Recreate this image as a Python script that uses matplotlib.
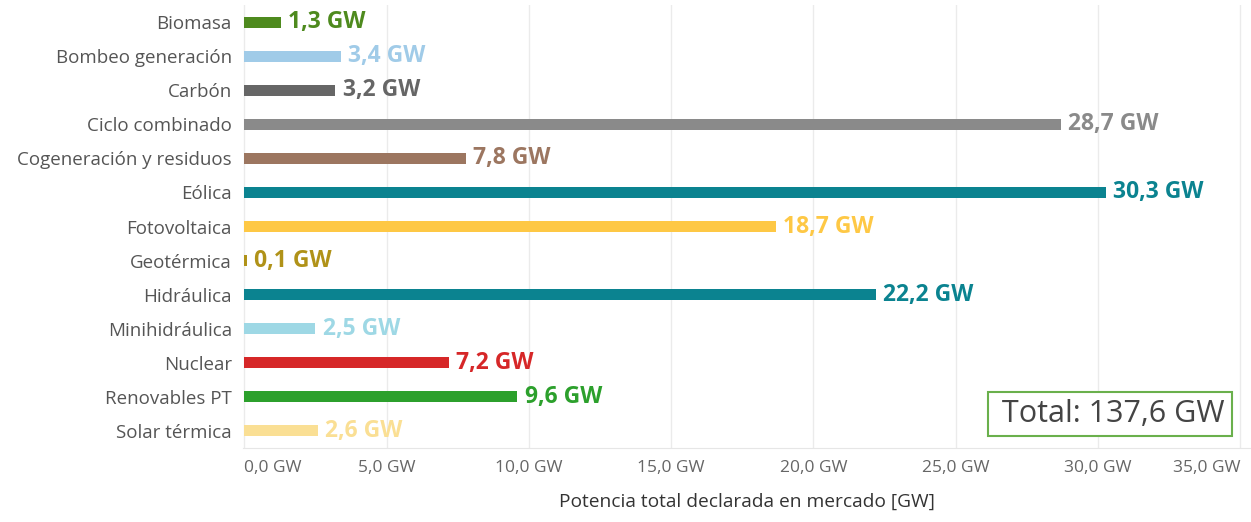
import matplotlib.pyplot as plt
from matplotlib.ticker import FuncFormatter

plt.rcParams['font.family'] = ['Open Sans', 'DejaVu Sans']

# Datos
tecnologias = ['Biomasa', 'Bombeo generación', 'Carbón', 'Ciclo combinado',
               'Cogeneración y residuos', 'Eólica', 'Fotovoltaica', 'Geotérmica',
               'Hidráulica', 'Minihidráulica', 'Nuclear', 'Renovables PT',
               'Solar térmica']
potencia = [1.3, 3.4, 3.2, 28.7, 7.8, 30.3, 18.7, 0.1, 22.2, 2.5, 7.2, 9.6, 2.6]
colores = ['#4e8a1e', '#a0cbe8', '#666666', '#8a8a8a', '#9c7660', '#0b8390',
           '#fec845', '#b09218', '#0b8390', '#9ed8e5', '#d62728', '#2ca02c',
           '#fadf94']
total = 137.6
ticks_x = [0, 5, 10, 15, 20, 25, 30, 35]

def fmt(v):
    return f'{v:.1f}'.replace('.', ',') + ' GW'

fig = plt.figure(figsize=(12.51, 5.22), dpi=100)
ax = fig.add_axes([0.1942, 0.142, 0.805, 0.848])

y = list(range(len(tecnologias)))
ax.barh(y, potencia, height=0.33, color=colores, zorder=3)
for yi, v, c in zip(y, potencia, colores):
    ax.text(v + 0.25, yi, fmt(v), va='center', ha='left', color=c,
            fontsize=16.5, fontweight='bold')

ax.set_yticks(y)
ax.set_yticklabels(tecnologias, fontsize=13.5, color='#555555')
ax.set_ylim(12.5, -0.5)
ax.set_xlim(-0.05, 35.35)
ax.set_xticks(ticks_x)
ax.xaxis.set_major_formatter(FuncFormatter(lambda v, p: fmt(v)))
ax.tick_params(axis='x', labelsize=12.5, labelcolor='#666666', length=0, pad=9)
ax.tick_params(axis='y', length=0, pad=8)
etiquetas = ax.get_xticklabels()
etiquetas[0].set_ha('left')
etiquetas[-1].set_ha('right')
etiquetas[-1].set_x(35.35)
ax.grid(axis='x', color='#ebebeb', linewidth=1, zorder=0)
for s in ['top', 'right', 'left']:
    ax.spines[s].set_visible(False)
ax.spines['bottom'].set_color('#e6e6e6')
ax.set_xlabel('Potencia total declarada en mercado [GW]', fontsize=13.8,
              color='#333333', labelpad=12)

ax.text(0.975, 0.077, ' Total: ' + fmt(total), transform=ax.transAxes,
        ha='right', va='center', fontsize=22, color='#444444',
        bbox=dict(boxstyle='square,pad=0.22', facecolor='white',
                  edgecolor='#6ab04c', linewidth=1.5), zorder=5)

fig.savefig('out.png', dpi=100)
